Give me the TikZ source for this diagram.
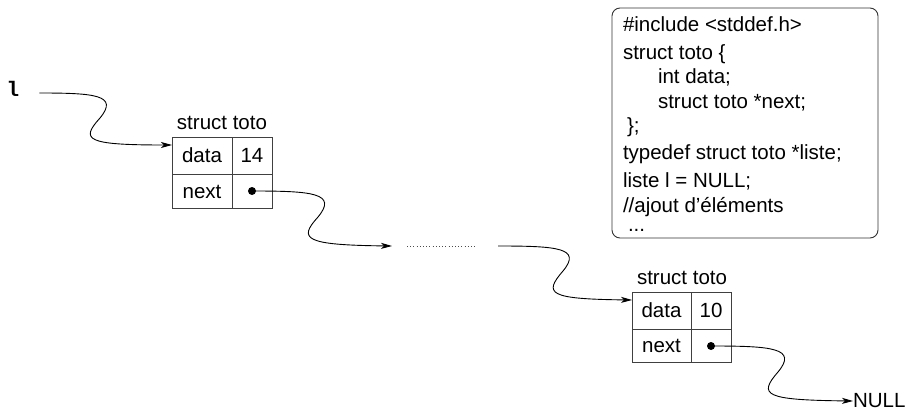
\documentclass[tikz,border=0pt]{standalone}
\usepackage{fontspec}
\setmainfont{Liberation Sans}
\newfontfamily\monofont{Liberation Mono}
\usetikzlibrary{arrows.meta,calc}
\begin{document}
\begin{tikzpicture}[x=1pt,y=-1pt,
  every node/.style={font=\fontsize{20.5}{24}\selectfont, inner sep=0pt, outer sep=0pt},
  cell/.style={draw=black!75, line width=0.9pt, text height=14pt, text depth=0pt},
  pdot/.style={circle, fill=black, minimum size=8pt},
  codeline/.style={anchor=base west},
  conn/.style={line width=0.9pt, -{Stealth[length=11pt,width=6pt,inset=3pt]}},
  wire/.style={line width=0.9pt}]
\useasboundingbox (0,0) rectangle (911,412);

% variable l
\node[font=\fontsize{21}{22}\monofont\bfseries] (l) at (13,89) {l};

% first struct
\node (t1) at (222,123) {struct toto};
\node[cell, minimum width=60pt, minimum height=37pt] (a1) at (202,155.5) {data};
\node[cell, minimum width=40pt, minimum height=37pt] (b1) at (252,155.5) {14};
\node[cell, minimum width=60pt, minimum height=34pt] (c1) at (202,191) {next};
\node[cell, minimum width=40pt, minimum height=34pt] (n1) at (252,191) {};
\node[pdot] (p1) at (252,191) {};

% second struct
\node (t2) at (682,278) {struct toto};
\node[cell, minimum width=59pt, minimum height=37pt] (a2) at (661.5,310.5) {data};
\node[cell, minimum width=40pt, minimum height=37pt] (b2) at (711,310.5) {10};
\node[cell, minimum width=59pt, minimum height=33pt] (c2) at (661.5,345.5) {next};
\node[cell, minimum width=40pt, minimum height=33pt] (n2) at (711,345.5) {};
\node[pdot] (p2) at (711,346) {};

\node[anchor=west] (nul) at (853,401) {NULL};

% code box
\node[draw=black!80, line width=0.9pt, rounded corners=8pt, minimum width=266pt, minimum height=230pt] (code) at (745,123) {};
\node[codeline] (k1) at (623,32) {\#include <stddef.h>};
\node[codeline] (k2) at (623,60) {struct toto \{};
\node[codeline] (k3) at (658,84) {int data;};
\node[codeline] (k4) at (658,108) {struct toto *next;};
\node[codeline] (k5) at (627,132) {\};};
\node[codeline] (k6) at (623,159) {typedef struct toto *liste;};
\node[codeline] (k7) at (623,187) {liste l = NULL;};
\node[codeline] (k8) at (623,212) {//ajout d’éléments};
\node[codeline] (k9) at (628,231) {...};

% dotted gap
\coordinate (g2) at (392,246);
\coordinate (dl) at (407,246);
\coordinate (dr) at (477,246);
\coordinate (g3) at (498,246);
\draw[black!70, line width=0.8pt, dash pattern=on 0.8pt off 2.4pt] (dl) -- (dr);

% connectors
\draw[conn] ([shift={(20,4)}]l.east) .. controls (95,93) and (119,95) .. (100,118)
  .. controls (80,140) and (86,145) .. ([shift={(0,8)}]a1.north west);
\draw[conn] (p1.center) .. controls (312,191) and (338,193) .. (318,217)
  .. controls (298,239) and (304,245) .. (g2);
\draw[conn] (g3) .. controls (558,246) and (582,248) .. (563,271)
  .. controls (543,294) and (549,299) .. ([shift={(0,8)}]a2.north west);
\draw[conn] (p2.center) .. controls (772,346) and (798,348) .. (778,372)
  .. controls (758,395) and (764,400) .. (nul.west);
\end{tikzpicture}
\end{document}
